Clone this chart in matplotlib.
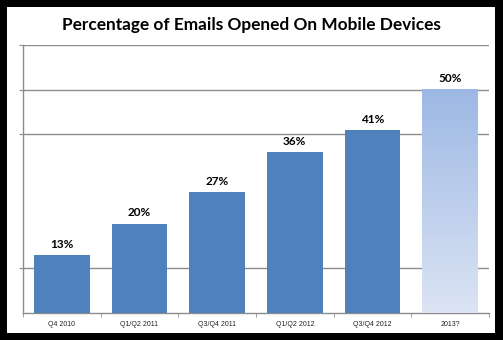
import numpy as np
import matplotlib.pyplot as plt
from matplotlib.patches import Rectangle
from matplotlib.colors import LinearSegmentedColormap

categories = ['Q4 2010', 'Q1/Q2 2011', 'Q3/Q4 2011', 'Q1/Q2 2012', 'Q3/Q4 2012', '2013?']
values = [13, 20, 27, 36, 41, 50]
labels = ['13%', '20%', '27%', '36%', '41%', '50%']
grid_levels = [10, 40, 50, 60]

fig = plt.figure(figsize=(5.03, 3.40), dpi=100)
fig.patch.set_facecolor('black')
# white card inside black frame
card = Rectangle((7 / 503, 7 / 340), 488 / 503, 326 / 340,
                 transform=fig.transFigure, facecolor='white',
                 edgecolor='none', zorder=-10)
fig.patches.append(card)

ax = fig.add_axes([23 / 503, 27 / 340, 466 / 503, 268 / 340])
ax.set_zorder(5)
ax.set_facecolor('none')

x = np.arange(len(categories))
width = 0.72
bars = ax.bar(x[:-1], values[:-1], width=width, color='#4F81BD', zorder=3)

# last bar: light gradient
grad = LinearSegmentedColormap.from_list('g', ['#DCE4F4', '#9DB8E4'])
x0 = x[-1] - width / 2
im = ax.imshow(np.linspace(0, 1, 256).reshape(-1, 1), cmap=grad, origin='lower',
               extent=[x0, x0 + width, 0, values[-1]], aspect='auto', zorder=3)

for xi, v, lab in zip(x, values, labels):
    ax.text(xi, v + 1.2, lab, ha='center', va='bottom', fontsize=8.5,
            fontweight='bold', family='Lato', color='black', zorder=4)

for g in grid_levels:
    ax.axhline(g, color='#8C8C8C', lw=1.0, zorder=1)

ax.set_xlim(-0.5, len(categories) - 0.5)
ax.set_ylim(0, 60)

ax.set_xticks(x)
ax.set_xticklabels(categories, fontsize=5, color='#222222', family='Liberation Sans')
ax.set_xticks(np.arange(-0.5, len(categories)), minor=True)
ax.tick_params(axis='x', which='major', length=0, pad=6)
ax.tick_params(axis='x', which='minor', length=3, color='#8C8C8C', direction='out')
ax.set_yticks(grid_levels)
ax.set_yticklabels([''] * len(grid_levels))
ax.tick_params(axis='y', length=3, color='#8C8C8C', direction='out')

for s in ['top', 'right']:
    ax.spines[s].set_visible(False)
for s in ['left', 'bottom']:
    ax.spines[s].set_color('#8C8C8C')
    ax.spines[s].set_linewidth(1.0)

fig.text(0.499, 1 - 25 / 340, 'Percentage of Emails Opened On Mobile Devices',
         ha='center', va='center', fontsize=12.4, fontweight='bold', family='Lato',
         zorder=6)

fig.savefig('out.png', dpi=100, facecolor=fig.get_facecolor())
